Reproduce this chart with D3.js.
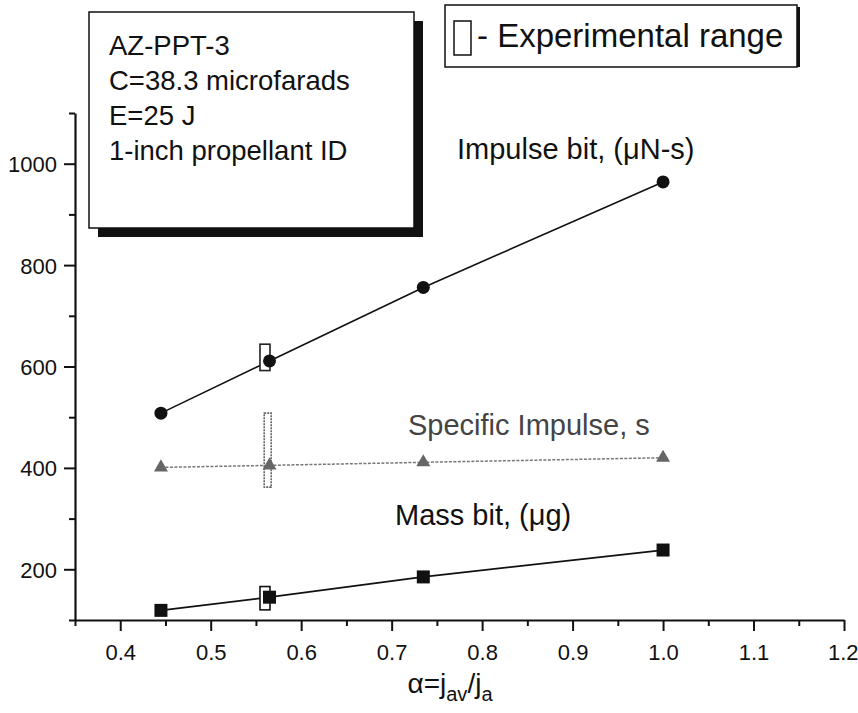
<!DOCTYPE html>
<html>
<head>
<meta charset="utf-8">
<script src="https://cdn.jsdelivr.net/npm/d3@7/dist/d3.min.js"></script>
<style>
  html, body { margin: 0; padding: 0; background: #fff; }
  svg { display: block; }
  text { font-family: "Liberation Sans", Arial, Helvetica, sans-serif; fill: #111; }
</style>
</head>
<body>
<div id="chart"></div>
<script>
// Current-density ratio alpha = j_av / j_a
const alpha = [0.445, 0.565, 0.735, 1.0];

// Series values
const impulseBit = [508, 611, 756, 964];      // µN-s
const specificImpulse = [401, 405, 411, 420]; // s
const massBit = [119, 145, 185, 238];         // µg

// Experimental ranges at alpha ~0.56: [alpha, low, high]
const rangeImpulse = [0.56, 592, 644];
const rangeIsp = [0.563, 362, 508];
const rangeMass = [0.56, 120, 166];

// Axis ticks
const xTicks = [0.4, 0.5, 0.6, 0.7, 0.8, 0.9, 1.0, 1.1, 1.2];
const xMinor = [0.35, 0.45, 0.55, 0.65, 0.75, 0.85, 0.95, 1.05, 1.15];
const yTicks = [200, 400, 600, 800, 1000];
const yMinor = [100, 300, 500, 700, 900, 1100];

// Annotation text
const infoLines = ["AZ-PPT-3", "C=38.3 microfarads", "E=25 J", "1-inch propellant ID"];

const W = 858, H = 713;
const plot = { left: 75, right: 844, top: 113, bottom: 620 };

const svg = d3.select("#chart").append("svg")
  .attr("width", W).attr("height", H);

const x = d3.scaleLinear().domain([0.35, 1.2]).range([plot.left, plot.right]);
const y = d3.scaleLinear().domain([100, 1100]).range([plot.bottom, plot.top]);

// Axes
const xAxis = svg.append("g").attr("transform", `translate(0,${plot.bottom})`)
  .call(d3.axisBottom(x).tickValues(xTicks).tickSize(11).tickSizeOuter(0).tickFormat(d3.format(".1f")));
svg.append("g").attr("transform", `translate(0,${plot.bottom})`)
  .call(d3.axisBottom(x).tickValues(xMinor).tickSize(6).tickSizeOuter(0).tickFormat(""))
  .select(".domain").remove();
const yAxis = svg.append("g").attr("transform", `translate(${plot.left},0)`)
  .call(d3.axisLeft(y).tickValues(yTicks).tickSize(11).tickSizeOuter(0).tickFormat(d3.format("d")));
svg.append("g").attr("transform", `translate(${plot.left},0)`)
  .call(d3.axisLeft(y).tickValues(yMinor).tickSize(6).tickSizeOuter(0).tickFormat(""))
  .select(".domain").remove();

svg.selectAll(".domain").attr("stroke", "#111").attr("stroke-width", 2.2);
svg.selectAll(".tick line").attr("stroke", "#111").attr("stroke-width", 2);
xAxis.selectAll(".tick text").attr("font-size", 22).attr("dy", "1.2em")
  .attr("font-family", "Liberation Sans, Arial, sans-serif").attr("fill", "#111")
  .attr("text-anchor", d => d === 1.2 ? "end" : "middle")
  .attr("x", d => d === 1.2 ? 14 : 0);
yAxis.selectAll(".tick text").attr("font-size", 22).attr("x", -18).attr("dy", "0.36em")
  .attr("font-family", "Liberation Sans, Arial, sans-serif").attr("fill", "#111");

// x-axis title: alpha = j_av / j_a
const xt = svg.append("text").attr("x", 450).attr("y", 693)
  .attr("text-anchor", "middle").attr("font-size", 28);
xt.append("tspan").text("α=j");
xt.append("tspan").attr("dy", 8).attr("font-size", 20).text("av");
xt.append("tspan").attr("dy", -8).text("/j");
xt.append("tspan").attr("dy", 8).attr("font-size", 20).text("a");

// Series lines
const line = d3.line().x(d => x(d[0])).y(d => y(d[1]));
const zip = vals => alpha.map((a, i) => [a, vals[i]]);

svg.append("path").datum(zip(impulseBit)).attr("d", line)
  .attr("fill", "none").attr("stroke", "#111").attr("stroke-width", 1.6);
svg.append("path").datum(zip(specificImpulse)).attr("d", line)
  .attr("fill", "none").attr("stroke", "#777").attr("stroke-width", 1.5)
  .attr("stroke-dasharray", "3,1.5");
svg.append("path").datum(zip(massBit)).attr("d", line)
  .attr("fill", "none").attr("stroke", "#111").attr("stroke-width", 1.8);

// Experimental range boxes
function rangeBox(r, w, stroke, dash) {
  svg.append("rect")
    .attr("x", x(r[0]) - w / 2).attr("y", y(r[2]))
    .attr("width", w).attr("height", y(r[1]) - y(r[2]))
    .attr("fill", "#fff").attr("stroke", stroke).attr("stroke-width", 1.6)
    .attr("stroke-dasharray", dash);
}
rangeBox(rangeImpulse, 10, "#222", null);
rangeBox(rangeIsp, 7, "#666", "2,1");
rangeBox(rangeMass, 10, "#111", null);

// Markers
svg.selectAll(".impulse").data(zip(impulseBit)).enter().append("circle")
  .attr("cx", d => x(d[0])).attr("cy", d => y(d[1])).attr("r", 6.5).attr("fill", "#111");
const tri = d3.symbol().type(d3.symbolTriangle).size(85);
svg.selectAll(".isp").data(zip(specificImpulse)).enter().append("path")
  .attr("d", tri).attr("transform", d => `translate(${x(d[0])},${y(d[1])})`)
  .attr("fill", "#666");
svg.selectAll(".mass").data(zip(massBit)).enter().append("rect")
  .attr("x", d => x(d[0]) - 6.5).attr("y", d => y(d[1]) - 6.5)
  .attr("width", 13).attr("height", 13).attr("fill", "#111");

// Series labels
svg.append("text").attr("x", 457).attr("y", 159).attr("font-size", 29)
  .text("Impulse bit, (μN-s)");
svg.append("text").attr("x", 408).attr("y", 435).attr("font-size", 29)
  .style("fill", "#444")
  .text("Specific Impulse, s");
svg.append("text").attr("x", 395).attr("y", 525).attr("font-size", 29)
  .text("Mass bit, (μg)");

// Info box with drop shadow
const info = { x: 89, y: 12, w: 325, h: 216, sh: 9 };
svg.append("rect").attr("x", info.x + info.sh).attr("y", info.y + info.sh)
  .attr("width", info.w).attr("height", info.h).attr("fill", "#111");
svg.append("rect").attr("x", info.x).attr("y", info.y)
  .attr("width", info.w).attr("height", info.h)
  .attr("fill", "#fff").attr("stroke", "#111").attr("stroke-width", 1.5);
svg.append("g").selectAll("text").data(infoLines).enter().append("text")
  .attr("x", info.x + 20).attr("y", (d, i) => info.y + 43 + i * 35)
  .attr("font-size", 27.5).text(d => d);

// Legend box for the experimental range symbol
const leg = { x: 445, y: 5, w: 352, h: 62 };
svg.append("rect").attr("x", leg.x).attr("y", leg.y)
  .attr("width", leg.w).attr("height", leg.h)
  .attr("fill", "#fff").attr("stroke", "#111").attr("stroke-width", 1.5);
svg.append("rect").attr("x", leg.x + leg.w).attr("y", leg.y + 2)
  .attr("width", 3).attr("height", leg.h - 2).attr("fill", "#111");
svg.append("rect").attr("x", leg.x + 9).attr("y", leg.y + 16)
  .attr("width", 17).attr("height", 34)
  .attr("fill", "#fff").attr("stroke", "#111").attr("stroke-width", 1.5);
svg.append("text").attr("x", leg.x + 32).attr("y", leg.y + 42)
  .attr("font-size", 33).text("- Experimental range");
</script>
</body>
</html>
